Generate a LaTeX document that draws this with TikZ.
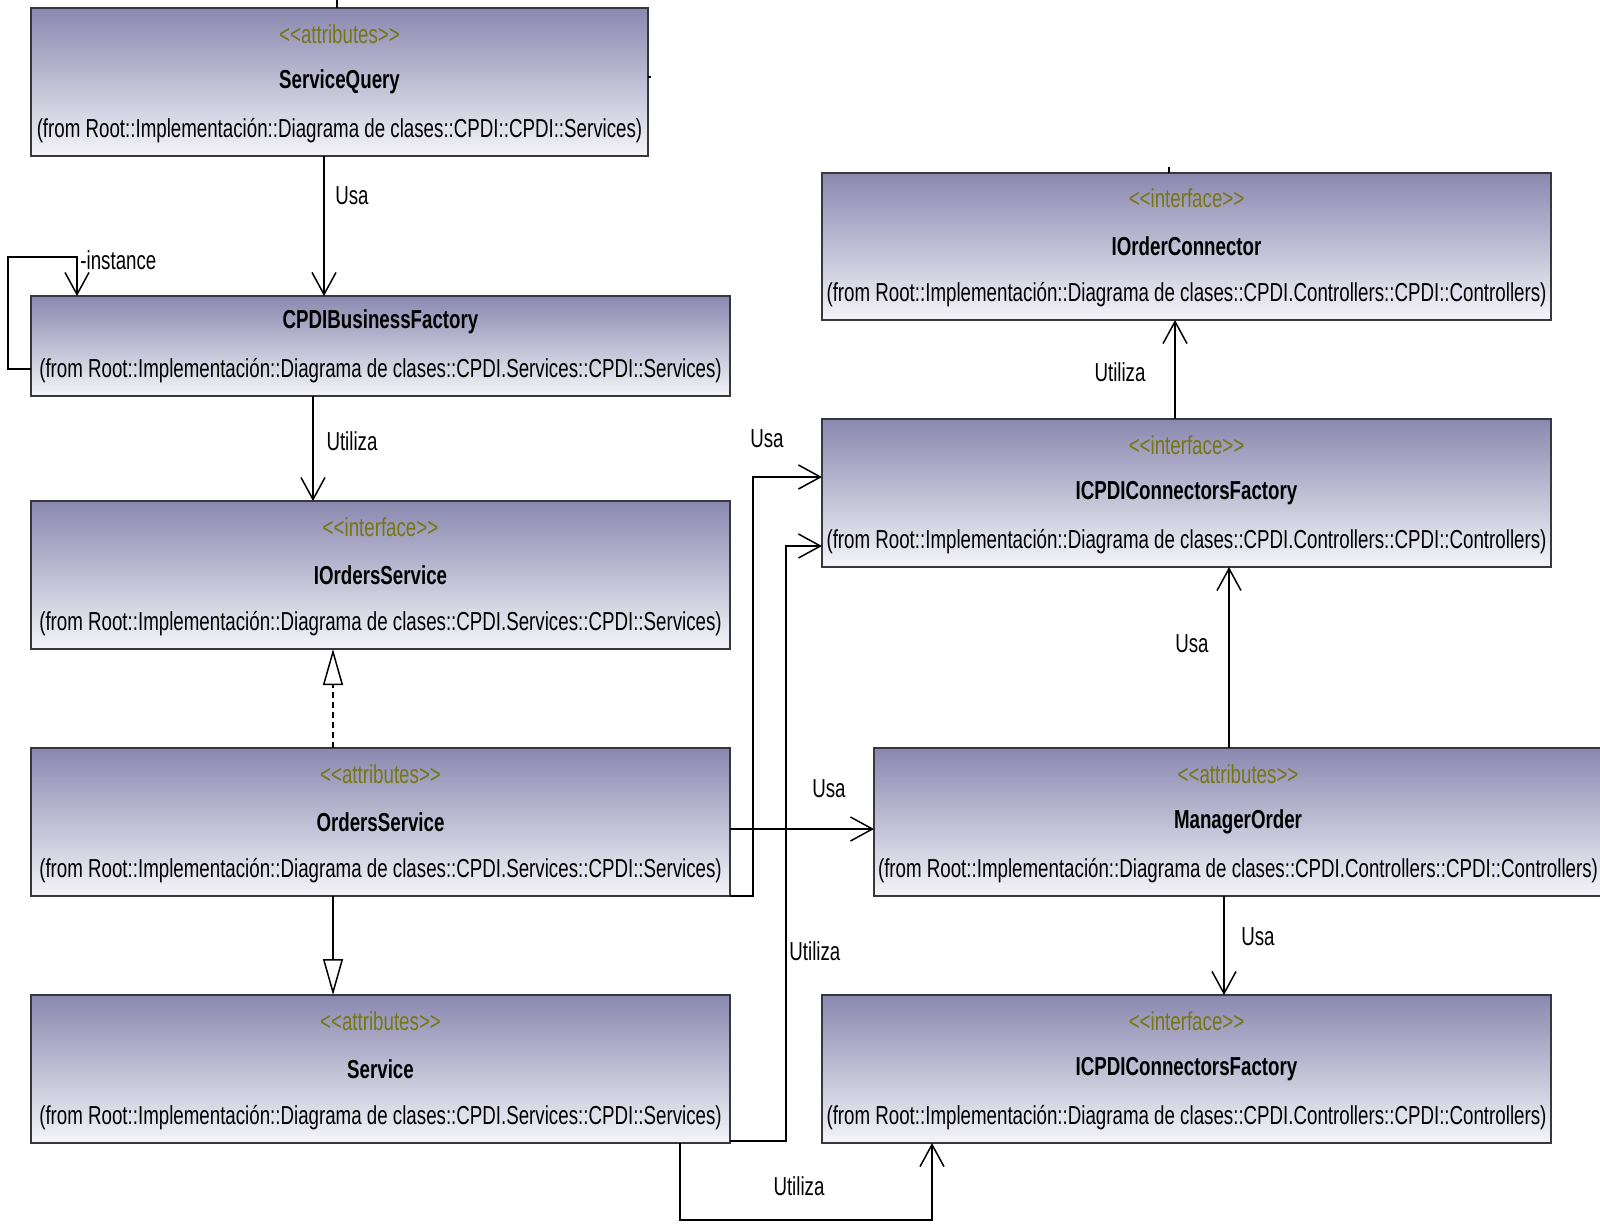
\documentclass[tikz,border=0pt]{standalone}
\usepackage{fontspec}
\setmainfont[FakeStretch=0.72]{Liberation Sans}
\usetikzlibrary{arrows.meta}

\definecolor{boxtop}{RGB}{138,136,176}
\definecolor{boxbot}{RGB}{244,244,248}
\definecolor{boxline}{RGB}{55,55,62}
\definecolor{stereo}{RGB}{118,118,18}

\tikzset{
  classbox/.style={draw=boxline, line width=1pt, top color=boxtop, bottom color=boxbot,
                   inner sep=0pt, outer sep=0pt},
  classtext/.style={font=\fontsize{13pt}{15pt}\selectfont, inner sep=0pt, anchor=center},
  stereotxt/.style={classtext, text=stereo},
  nametxt/.style={classtext, font=\fontsize{13pt}{15pt}\selectfont\bfseries},
  lbl/.style={font=\fontsize{13pt}{15pt}\selectfont, inner sep=0pt},
  link/.style={draw=black, line width=0.75pt},
  dep/.style={link, -{Straight Barb[length=11pt,width=12pt]}},
  realize/.style={link, dash pattern=on 3pt off 2pt,
                  -{Triangle[length=18pt,width=10pt,fill=white]}},
  general/.style={link, -{Triangle[length=18pt,width=10pt,fill=white]}},
  stub/.style={draw=black, line width=0.75pt},
}

% class box: name, left, top, right, bottom, title, package line
\newcommand\umlclass[7]{%
  \node[classbox, minimum width={(#4-#2)*0.5pt}, minimum height={(#5-#3)*0.5pt}]
    (#1) at ({(#2+#4)/2},{(#3+#5)/2}) {};
  \node[nametxt] (#1-name) at ([yshift=37pt]#1.south) {#6};
  \node[classtext] (#1-from) at ([yshift=12.5pt]#1.south) {#7};
}
% stereotype line above the title
\newcommand\umlstereo[2]{%
  \node[stereotxt] (#1-stereo) at ([yshift=61pt]#1.south) {#2};
}

\begin{document}
\begin{tikzpicture}[x=0.5pt, y=-0.5pt]
  \useasboundingbox (0,0) rectangle (1600,1223);
  \clip (0,0) rectangle (1600,1223);
  \fill[white] (0,0) rectangle (1600,1223);

  % services side
  \umlclass{sq}{31}{8}{648}{156}{ServiceQuery}
    {(from Root::Implementación::Diagrama de clases::CPDI::CPDI::Services)}
  \umlstereo{sq}{<{}<attributes>{}>}
  \umlclass{cbf}{31}{296}{730}{396}{CPDIBusinessFactory}
    {(from Root::Implementación::Diagrama de clases::CPDI.Services::CPDI::Services)}
  \umlclass{ios}{31}{501}{730}{649}{IOrdersService}
    {(from Root::Implementación::Diagrama de clases::CPDI.Services::CPDI::Services)}
  \umlstereo{ios}{<{}<interface>{}>}
  \umlclass{os}{31}{748}{730}{896}{OrdersService}
    {(from Root::Implementación::Diagrama de clases::CPDI.Services::CPDI::Services)}
  \umlstereo{os}{<{}<attributes>{}>}
  \umlclass{svc}{31}{995}{730}{1143}{Service}
    {(from Root::Implementación::Diagrama de clases::CPDI.Services::CPDI::Services)}
  \umlstereo{svc}{<{}<attributes>{}>}

  % controllers side
  \umlclass{ioc}{822}{173}{1551}{320}{IOrderConnector}
    {(from Root::Implementación::Diagrama de clases::CPDI.Controllers::CPDI::Controllers)}
  \umlstereo{ioc}{<{}<interface>{}>}
  \umlclass{ct}{822}{419}{1551}{567}{ICPDIConnectorsFactory}
    {(from Root::Implementación::Diagrama de clases::CPDI.Controllers::CPDI::Controllers)}
  \umlstereo{ct}{<{}<interface>{}>}
  \umlclass{mo}{874}{748}{1602}{896}{ManagerOrder}
    {(from Root::Implementación::Diagrama de clases::CPDI.Controllers::CPDI::Controllers)}
  \umlstereo{mo}{<{}<attributes>{}>}
  \umlclass{cb}{822}{995}{1551}{1143}{ICPDIConnectorsFactory}
    {(from Root::Implementación::Diagrama de clases::CPDI.Controllers::CPDI::Controllers)}
  \umlstereo{cb}{<{}<interface>{}>}

  % short cut-off line ends at box borders
  \draw[stub] (sq.north -| 337,0) -- ++(0,-8);
  \draw[stub] (sq.east |- 0,77) -- ++(3,0);
  \draw[stub] (ioc.north -| 1169,0) -- ++(0,-6);

  % dependencies
  \draw[dep] (sq.south -| 324,0) -- (cbf.north -| 324,0);
  \node[lbl] (l-sq) at (352,196) {Usa};

  \draw[dep] (cbf.west |- 0,369) -| (8,257) -| (cbf.north -| 77,0);
  \node[lbl, anchor=west] (l-inst) at (80,260) {-instance};

  \draw[dep] (cbf.south -| 313,0) -- (ios.north -| 313,0);
  \node[lbl] (l-cbf) at (352,441) {Utiliza};

  \draw[realize] (os.north -| 333,0) -- (ios.south -| 333,0);
  \draw[general] (os.south -| 333,0) -- (svc.north -| 333,0);

  \draw[dep] (os.south east) -- (753,896) |- (ct.west |- 0,477);
  \node[lbl] (l-osct) at (767,439) {Usa};

  \draw[dep] (os.east |- 0,829) -- (mo.west |- 0,829);
  \node[lbl] (l-osmo) at (829,789) {Usa};

  \draw[dep] (svc.east |- 0,1141) -- (786,1141) |- (ct.west |- 0,546);
  \node[lbl, anchor=west] (l-svct) at (789,951) {Utiliza};

  \draw[dep] (mo.north -| 1229,0) -- (ct.south -| 1229,0);
  \node[lbl] (l-moct) at (1192,644) {Usa};

  \draw[dep] (ct.north -| 1175,0) -- (ioc.south -| 1175,0);
  \node[lbl] (l-ctioc) at (1120,372) {Utiliza};

  \draw[dep] (mo.south -| 1224,0) -- (cb.north -| 1224,0);
  \node[lbl] (l-mocb) at (1258,937) {Usa};

  \draw[dep] (svc.south -| 680,0) -- (680,1220) -| (cb.south -| 932,0);
  \node[lbl] (l-svcb) at (799,1186) {Utiliza};
\end{tikzpicture}
\end{document}
